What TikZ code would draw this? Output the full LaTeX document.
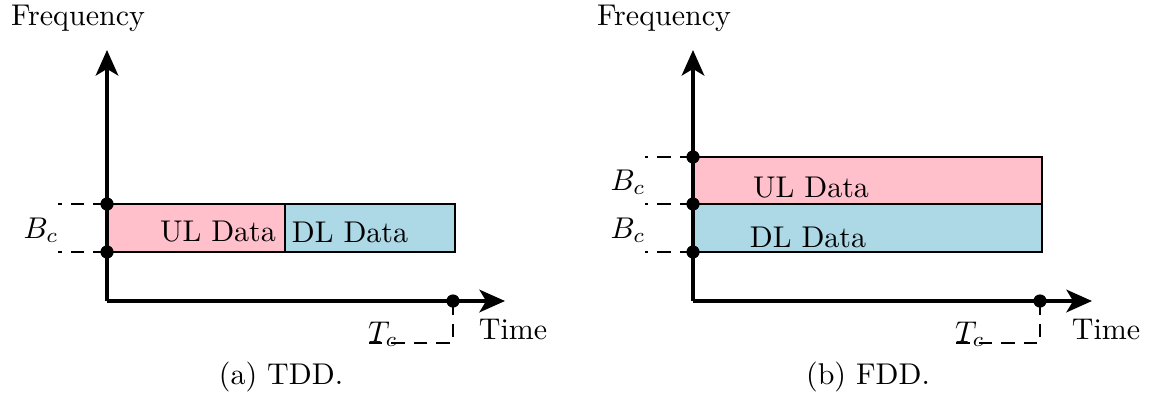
\documentclass[tikz,border=0pt]{standalone}
\usetikzlibrary{arrows.meta}
\definecolor{ulpink}{RGB}{255,192,203}
\definecolor{dlblue}{RGB}{173,216,230}
\begin{document}
\begin{tikzpicture}[x=0.3333pt,y=-0.3333pt,
  axis/.style={line width=1.3pt,-{Stealth[length=8.5pt,width=7.5pt,inset=2.2pt]}},
  band/.style={draw=black,line width=0.9pt},
  guide/.style={line width=0.9pt,dash pattern=on 4.5pt off 3pt},
  dot/.style={circle,fill=black,inner sep=0pt,minimum size=4.4pt},
  lbl/.style={inner sep=0pt}]
\useasboundingbox (0,0) rectangle (1150,399);
% ---------------- (a) TDD ----------------
\filldraw[band,fill=ulpink] (107,204) rectangle (285,252);
\filldraw[band,fill=dlblue] (285,204) rectangle (455,252);
\node[lbl] (ulA) at (218,232) {UL Data};
\node[lbl] (dlA) at (350,232) {DL Data};
\coordinate (oA) at (107,301);
\coordinate (yA) at (107,50);
\coordinate (xA) at (505,301);
\draw[axis] (oA) -- (yA);
\draw[axis] (oA) -- (xA);
\node[dot] (bA1) at (107,204) {};
\node[dot] (bA2) at (107,252) {};
\node[dot] (tA) at (453,301) {};
\coordinate (bA1l) at (58,204);
\coordinate (bA2l) at (58,252);
\draw[guide] (bA1.center) -- (bA1l);
\draw[guide] (bA2.center) -- (bA2l);
\coordinate (tAd) at (453,343);
\coordinate (tAl) at (367,343);
\draw[guide] (tA.center) -- (tAd) -- (tAl);
\node[lbl] (BcA) at (41,230) {$B_c$};
\node[lbl] (TcA) at (383,334) {$T_c$};
\node[lbl] (freqA) at (78,18) {Frequency};
\node[lbl] (timeA) at (513,330) {Time};
\node[lbl] (capA) at (281,377) {(a) TDD.};
% ---------------- (b) FDD ----------------
\filldraw[band,fill=ulpink] (693,157) rectangle (1042,204);
\filldraw[band,fill=dlblue] (693,204) rectangle (1042,252);
\node[lbl] (ulB) at (811,188) {UL Data};
\node[lbl] (dlB) at (808,237) {DL Data};
\coordinate (oB) at (693,301);
\coordinate (yB) at (693,50);
\coordinate (xB) at (1092,301);
\draw[axis] (oB) -- (yB);
\draw[axis] (oB) -- (xB);
\node[dot] (bB1) at (693,157) {};
\node[dot] (bB2) at (693,204) {};
\node[dot] (bB3) at (693,252) {};
\node[dot] (tB) at (1040,301) {};
\coordinate (bB1l) at (645,157);
\coordinate (bB2l) at (645,204);
\coordinate (bB3l) at (645,252);
\draw[guide] (bB1.center) -- (bB1l);
\draw[guide] (bB2.center) -- (bB2l);
\draw[guide] (bB3.center) -- (bB3l);
\coordinate (tBd) at (1040,343);
\coordinate (tBl) at (955,343);
\draw[guide] (tB.center) -- (tBd) -- (tBl);
\node[lbl] (BcB1) at (628,182) {$B_c$};
\node[lbl] (BcB2) at (628,230) {$B_c$};
\node[lbl] (TcB) at (970,334) {$T_c$};
\node[lbl] (freqB) at (664,18) {Frequency};
\node[lbl] (timeB) at (1106,330) {Time};
\node[lbl] (capB) at (868,377) {(b) FDD.};
\end{tikzpicture}
\end{document}
